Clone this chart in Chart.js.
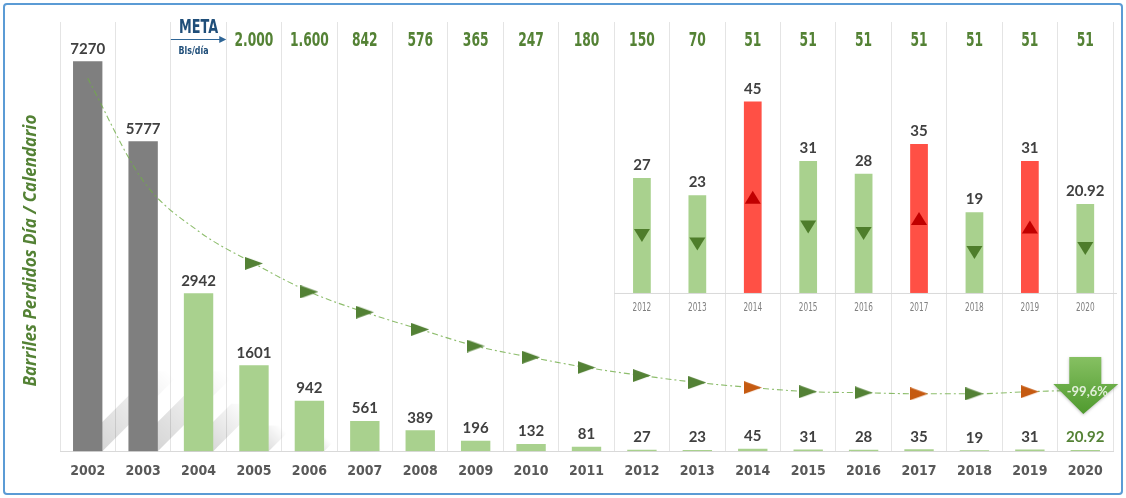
<!DOCTYPE html>
<html>
<head>
<meta charset="utf-8">
<script src="https://cdn.jsdelivr.net/npm/chart.js@4"></script>
<style>
  body { margin: 0; background: #fff; }
  #wrap { position: relative; width: 1126px; height: 498px; }
  #frame { position: absolute; left: 3px; top: 3px; width: 1116px; height: 488px;
           border: 2px solid #5b9bd5; border-radius: 4px; pointer-events: none; }
  canvas { position: absolute; left: 0; top: 0; }
</style>
</head>
<body>
<div id="wrap">
  <canvas id="chart" width="1126" height="498"></canvas>
  <div id="frame"></div>
</div>
<script>
'use strict';

// data
const years = ['2002', '2003', '2004', '2005', '2006', '2007', '2008', '2009', '2010', '2011',
               '2012', '2013', '2014', '2015', '2016', '2017', '2018', '2019', '2020'];
const barrels = [7270, 5777, 2942, 1601, 942, 561, 389, 196, 132, 81,
                 27, 23, 45, 31, 28, 35, 19, 31, 20.92];
const trendValues = [6950, 5040, 4100, 3500, 2970, 2590, 2270, 1960, 1750, 1560,
                     1410, 1280, 1185, 1110, 1090, 1070, 1070, 1110, 1140];
const metaYears = ['2005', '2006', '2007', '2008', '2009', '2010', '2011', '2012',
                   '2013', '2014', '2015', '2016', '2017', '2018', '2019', '2020'];
const metaValues = ['2.000', '1.600', '842', '576', '365', '247', '180', '150',
                    '70', '51', '51', '51', '51', '51', '51', '51'];
const insetYears = ['2012', '2013', '2014', '2015', '2016', '2017', '2018', '2019', '2020'];
const insetValues = [27, 23, 45, 31, 28, 35, 19, 31, 20.92];
const totalChange = '-99,6%';
const yTitle = 'Barriles Perdidos Día / Calendario';

const NARROW = "'DejaVu Sans Condensed', 'DejaVu Sans', sans-serif";
const LABEL = "Lato, 'Open Sans', sans-serif";
const GREEN = '#a9d18e';
const DARKGREEN = '#548235';

// did the year go up compared with the one before?
function rose(i) {
    return i > 0 && barrels[i] > barrels[i - 1];
}

// squeezed text, to get the tall narrow look of the original labels
function narrowText(ctx, text, x, y, sx) {
    ctx.save();
    ctx.translate(x, y);
    ctx.scale(sx, 1);
    ctx.fillText(text, 0, 0);
    ctx.restore();
}

let canvasElem = document.getElementById('chart');

function triangleImg(color) {
    let c = document.createElement('canvas');
    c.width = 18; c.height = 13;
    let g = c.getContext('2d');
    g.fillStyle = color;
    g.beginPath();
    g.moveTo(0, 0); g.lineTo(18, 6.5); g.lineTo(0, 13);
    g.closePath(); g.fill();
    return c;
}
const markGreen = triangleImg('#538135');
const markOrange = triangleImg('#c55a11');

function renderChart() {
    let mainColors = years.map(y => (+y < 2004 ? '#7f7f7f' : GREEN));
    let insetData = years.map(y => {
        let k = insetYears.indexOf(y);
        return k < 0 ? null : insetValues[k];
    });
    let insetColors = years.map((y, i) => (rose(i) ? '#ff5045' : GREEN));
    let markStyles = years.map((y, i) => (rose(i) ? markOrange : markGreen));
    let markRadius = years.map((y, i) => (i < 3 || i === years.length - 1 ? 0 : 7));

    const decor = {
        id: 'decor',
        beforeDatasetsDraw(chart) {
            // soft diagonal shadows behind the tall bars
            let ctx = chart.ctx;
            let meta = chart.getDatasetMeta(0);
            ctx.save();
            meta.data.forEach(bar => {
                let h = bar.base - bar.y;
                if (h < 30) return;
                let L = Math.min(h * 0.3, 80);
                let half = bar.width / 2;
                let grad = ctx.createLinearGradient(bar.x, bar.base, bar.x + L, bar.base - L);
                grad.addColorStop(0, 'rgba(0,0,0,0.18)');
                grad.addColorStop(1, 'rgba(0,0,0,0)');
                ctx.fillStyle = grad;
                ctx.beginPath();
                ctx.moveTo(bar.x - half, bar.base);
                ctx.lineTo(bar.x + half, bar.base);
                ctx.lineTo(bar.x + half + L, bar.base - L);
                ctx.lineTo(bar.x - half + L, bar.base - L);
                ctx.closePath();
                ctx.fill();
            });
            ctx.restore();
        },
        afterDatasetsDraw(chart) {
            let ctx = chart.ctx;
            let xs = chart.scales.x;
            let y2 = chart.scales.y2;
            let area = chart.chartArea;
            let colW = xs.getPixelForValue(1) - xs.getPixelForValue(0);
            ctx.save();

            // inset baseline + small year labels
            let base2 = y2.getPixelForValue(0);
            let firstInset = years.indexOf(insetYears[0]);
            ctx.strokeStyle = '#d9d9d9';
            ctx.lineWidth = 1;
            ctx.beginPath();
            ctx.moveTo(xs.getPixelForValue(firstInset) - colW / 2, base2 + 0.5);
            ctx.lineTo(area.right + 4, base2 + 0.5);
            ctx.stroke();
            ctx.font = '12px ' + NARROW;
            ctx.fillStyle = '#808080';
            ctx.textAlign = 'center';
            ctx.textBaseline = 'middle';
            insetYears.forEach(y => {
                narrowText(ctx, y, xs.getPixelForValue(years.indexOf(y)), base2 + 15, 0.68);
            });

            // triangles inside the inset bars
            let meta2 = chart.getDatasetMeta(1);
            meta2.data.forEach((bar, i) => {
                if (insetData[i] === null) return;
                let m = (bar.y + bar.base) / 2;
                ctx.beginPath();
                if (rose(i)) {
                    ctx.fillStyle = '#c00000';
                    ctx.moveTo(bar.x - 8, m + 6.5); ctx.lineTo(bar.x + 8, m + 6.5); ctx.lineTo(bar.x, m - 6.5);
                } else {
                    ctx.fillStyle = '#4e7d2b';
                    ctx.moveTo(bar.x - 8, m - 6.5); ctx.lineTo(bar.x + 8, m - 6.5); ctx.lineTo(bar.x, m + 6.5);
                }
                ctx.closePath();
                ctx.fill();
            });

            // value labels
            ctx.textBaseline = 'bottom';
            chart.getDatasetMeta(0).data.forEach((bar, i) => {
                let last = i === years.length - 1;
                ctx.font = 'bold 15px ' + LABEL;
                ctx.fillStyle = last ? DARKGREEN : '#404040';
                ctx.fillText(String(barrels[i]), bar.x, bar.y - 5);
            });
            meta2.data.forEach((bar, i) => {
                if (insetData[i] === null) return;
                ctx.font = 'bold 15px ' + LABEL;
                ctx.fillStyle = '#404040';
                ctx.fillText(String(insetData[i]), bar.x, bar.y - 5);
            });

            // META row
            ctx.textBaseline = 'middle';
            ctx.font = 'bold 19px ' + NARROW;
            ctx.fillStyle = DARKGREEN;
            metaYears.forEach((y, k) => {
                narrowText(ctx, metaValues[k], xs.getPixelForValue(years.indexOf(y)), 41, 0.72);
            });
            let mx = xs.getPixelForValue(years.indexOf(metaYears[0]) - 1);
            ctx.fillStyle = '#1f4e79';
            ctx.font = 'bold 19px ' + NARROW;
            narrowText(ctx, 'META', mx, 28, 0.75);
            ctx.font = 'bold 11px ' + NARROW;
            narrowText(ctx, 'Bls/día', mx - 5, 51, 0.8);
            ctx.strokeStyle = '#2e6596';
            ctx.lineWidth = 1;
            ctx.beginPath();
            ctx.moveTo(mx - colW / 2, 39.5);
            ctx.lineTo(mx + colW / 2 - 4, 39.5);
            ctx.stroke();
            ctx.fillStyle = '#2e6596';
            ctx.beginPath();
            ctx.moveTo(mx + colW / 2, 39.5);
            ctx.lineTo(mx + colW / 2 - 7, 36);
            ctx.lineTo(mx + colW / 2 - 7, 43);
            ctx.closePath();
            ctx.fill();

            // big down arrow at the last year
            let li = years.length - 1;
            let ax = xs.getPixelForValue(li);
            let ay = chart.scales.y.getPixelForValue(trendValues[li]);
            let g = ctx.createLinearGradient(0, ay - 33, 0, ay + 24);
            g.addColorStop(0, '#86c062');
            g.addColorStop(1, '#4f9a2e');
            ctx.fillStyle = g;
            ctx.shadowColor = 'rgba(0,0,0,0.25)';
            ctx.shadowBlur = 3;
            ctx.shadowOffsetY = 1;
            ctx.beginPath();
            ctx.moveTo(ax - 16, ay - 33);
            ctx.lineTo(ax + 16, ay - 33);
            ctx.lineTo(ax + 16, ay - 6);
            ctx.lineTo(ax + 33, ay - 6);
            ctx.lineTo(ax - 2, ay + 24);
            ctx.lineTo(ax - 32, ay - 6);
            ctx.lineTo(ax - 16, ay - 6);
            ctx.closePath();
            ctx.fill();
            ctx.shadowColor = 'transparent';
            ctx.font = 'bold 13px ' + LABEL;
            ctx.fillStyle = '#e2efda';
            ctx.fillText(totalChange, ax + 2, ay + 2);

            // axis title
            ctx.translate(31, (area.top + area.bottom) / 2 + 14);
            ctx.rotate(-Math.PI / 2);
            ctx.font = "italic bold 17px 'Open Sans', Lato, sans-serif";
            ctx.fillStyle = DARKGREEN;
            ctx.fillText(yTitle, 0, 0);
            ctx.restore();
        }
    };

    new Chart(canvasElem, {
        type: 'bar',
        data: {
            labels: years,
            datasets: [{
                label: 'Barriles',
                data: barrels,
                backgroundColor: mainColors,
                barPercentage: 0.53,
                categoryPercentage: 1,
                grouped: false,
                yAxisID: 'y',
                order: 3
            }, {
                label: 'Detalle',
                data: insetData,
                backgroundColor: insetColors,
                barPercentage: 0.32,
                categoryPercentage: 1,
                grouped: false,
                yAxisID: 'y2',
                order: 2
            }, {
                type: 'line',
                label: 'Tendencia',
                data: trendValues,
                yAxisID: 'y',
                borderColor: 'rgba(112,173,71,0.8)',
                borderWidth: 1.1,
                borderDash: [6, 3, 2, 3],
                tension: 0.4,
                cubicInterpolationMode: 'monotone',
                pointStyle: markStyles,
                pointRadius: markRadius,
                order: 1
            }]
        },
        options: {
            responsive: false,
            animation: false,
            layout: { padding: { left: 60, right: 13, top: 22, bottom: 6 } },
            plugins: { legend: { display: false }, tooltip: { enabled: false } },
            scales: {
                x: {
                    grid: { color: '#e4e4e4', drawTicks: false, offset: true },
                    border: { color: '#d9d9d9' },
                    ticks: {
                        color: '#595959',
                        padding: 12,
                        font: { family: NARROW, size: 14, weight: 'bold' }
                    }
                },
                y: { display: false, min: 0, max: 8000 },
                y2: { display: false, min: -37.2, max: 63.7 }
            }
        },
        plugins: [decor]
    });
}

renderChart();
</script>
</body>
</html>
